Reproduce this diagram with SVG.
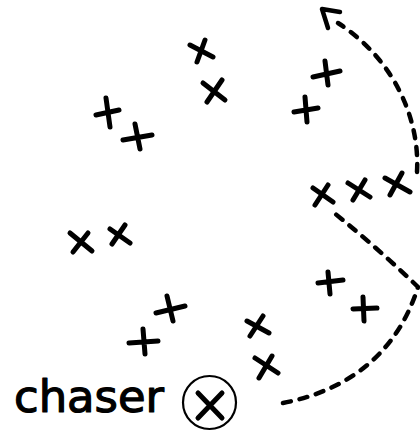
<svg xmlns="http://www.w3.org/2000/svg" width="420" height="432" viewBox="0 0 420 432">
<style>
.m{fill:none;stroke:#000;stroke-width:5;stroke-linecap:round}
.d{fill:none;stroke:#000;stroke-width:4.5;stroke-linecap:round;stroke-dasharray:8 9}
.a{fill:none;stroke:#000;stroke-width:4.5;stroke-linecap:round;stroke-linejoin:round}
.t{font-family:"DejaVu Sans",sans-serif;font-size:44px;fill:#000;stroke:#000;stroke-width:1.2;stroke-linejoin:round}
</style>
<rect width="420" height="432" fill="#fff"/>
<g id="connectors">
<path class="d" d="M417,172 C420,120 395,60 338,23"/>
<path class="a" d="M340,12 L322,9 L328,28"/>
<path class="d" d="M283,403 C340,392 395,360 418,287 Q380,250 333,212"/>
</g>
<g id="x1"><path class="m" d="M190,45 L213,57 M205,40 L197,62"/></g>
<g id="x2"><path class="m" d="M203,83 L225,100 M222,80 L207,102"/></g>
<g id="p1"><path class="m" d="M106,98 L110,127 M96,115 L119,110"/></g>
<g id="p2"><path class="m" d="M135,124 L140,149 M123,140 L152,135"/></g>
<g id="p3"><path class="m" d="M325,61 L328,85 M313,77 L340,71"/></g>
<g id="p4"><path class="m" d="M305,97 L307,122 M294,112 L318,108"/></g>
<g id="x3"><path class="m" d="M313,188 L333,202 M328,185 L315,205"/></g>
<g id="x4"><path class="m" d="M348,183 L370,197 M365,180 L353,200"/></g>
<g id="x5"><path class="m" d="M385,178 L410,192 M402,173 L390,195"/></g>
<g id="x6"><path class="m" d="M70,233 L92,251 M88,233 L73,252"/></g>
<g id="x7"><path class="m" d="M110,229 L130,243 M125,225 L112,244"/></g>
<g id="p5"><path class="m" d="M167,296 L173,321 M156,313 L185,306"/></g>
<g id="p6"><path class="m" d="M143,329 L145,354 M129,343 L158,341"/></g>
<g id="p7"><path class="m" d="M328,272 L330,294 M318,283 L343,280"/></g>
<g id="p8"><path class="m" d="M363,297 L364,321 M353,309 L377,308"/></g>
<g id="x8"><path class="m" d="M247,321 L269,333 M263,316 L250,336"/></g>
<g id="x9"><path class="m" d="M255,358 L278,373 M272,356 L259,378"/></g>
<g id="chaser">
<text class="t" x="14" y="412" textLength="150" lengthAdjust="spacingAndGlyphs">chaser</text>
<circle cx="209.5" cy="402.5" r="26.5" fill="none" stroke="#000" stroke-width="2.2"/>
<path class="m" d="M198,393 L222,418 M222,393 L198,418"/>
</g>
</svg>
